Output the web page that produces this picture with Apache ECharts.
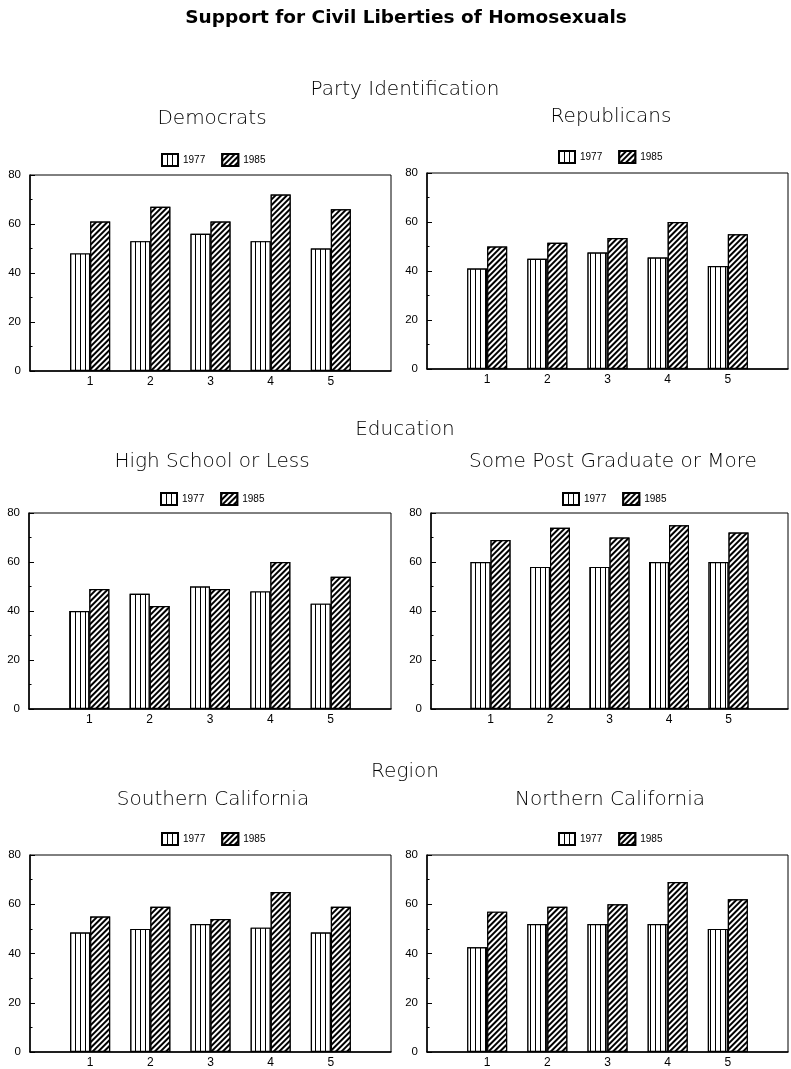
<!DOCTYPE html>
<html><head><meta charset="utf-8">
<script src="https://cdn.jsdelivr.net/npm/echarts@6/dist/echarts.min.js"></script>
<style>html,body{margin:0;padding:0;background:#fff}#c{width:791px;height:1069px}</style>
</head><body><div id="c"></div>
<script>
// ---- data ----
const categories = ['1', '2', '3', '4', '5'];
const years = ['1977', '1985'];
const yMin = 0, yMax = 80, yInterval = 20;
const chartTitle = 'Support for Civil Liberties of Homosexuals';
const sectionTitles = ['Party Identification', 'Education', 'Region'];
const panelTitles = ['Democrats', 'Republicans', 'High School or Less', 'Some Post Graduate or More', 'Southern California', 'Northern California'];

const democrats1977 = [48, 53, 56, 53, 50];
const democrats1985 = [61, 67, 61, 72, 66];
const republicans1977 = [41, 45, 47.5, 45.5, 42];
const republicans1985 = [50, 51.5, 53.5, 60, 55];
const highSchool1977 = [40, 47, 50, 48, 43];
const highSchool1985 = [49, 42, 49, 60, 54];
const postGrad1977 = [60, 58, 58, 60, 60];
const postGrad1985 = [69, 74, 70, 75, 72];
const southern1977 = [48.5, 50, 52, 50.5, 48.5];
const southern1985 = [55, 59, 54, 65, 59];
const northern1977 = [42.5, 52, 52, 52, 50];
const northern1985 = [57, 59, 60, 69, 62];

const panelData = [
  [democrats1977, democrats1985],
  [republicans1977, republicans1985],
  [highSchool1977, highSchool1985],
  [postGrad1977, postGrad1985],
  [southern1977, southern1985],
  [northern1977, northern1985]
];

// ---- layout ----
const panelLayout = [
  {left: 30,  top: 175, width: 361, height: 196, legendX: 161, legendY: 153, titleX: 212, titleY: 109},
  {left: 427, top: 173, width: 367, height: 196, legendX: 558, legendY: 150, titleX: 611, titleY: 107},
  {left: 29,  top: 513, width: 362, height: 196, legendX: 160, legendY: 492, titleX: 212, titleY: 452},
  {left: 431, top: 513, width: 366, height: 196, legendX: 562, legendY: 492, titleX: 613, titleY: 452},
  {left: 30,  top: 855, width: 361, height: 198, legendX: 161, legendY: 832, titleX: 213, titleY: 790},
  {left: 427, top: 855, width: 366, height: 198, legendX: 558, legendY: 832, titleX: 610, titleY: 790}
];
const sectionLayout = [{x: 405, y: 80}, {x: 405, y: 420}, {x: 405, y: 762}];

const FONT = 'DejaVu Sans';
const decals = [
  {symbol: 'rect', symbolSize: 1, color: '#000', backgroundColor: '#fff', dashArrayX: [1, 4], dashArrayY: [1, 0], rotation: 0},
  {symbol: 'rect', symbolSize: 1, color: '#000', backgroundColor: '#fff', dashArrayX: [1, 0], dashArrayY: [1.3, 1.7], rotation: -Math.PI / 4}
];

const axisCats = [''].concat(categories, ['']);

const option = {
  animation: false,
  backgroundColor: '#fff',
  aria: {enabled: true, decal: {show: true}},
  title: [],
  grid: [], xAxis: [], yAxis: [], legend: [], series: []
};

option.title.push({
  text: chartTitle, left: 406, top: 9, textAlign: 'center', padding: 0,
  textStyle: {fontFamily: FONT, fontSize: 18.5, fontWeight: 'bold', color: '#000'}
});
sectionTitles.forEach((t, i) => option.title.push({
  text: t, left: sectionLayout[i].x, top: sectionLayout[i].y, textAlign: 'center', padding: 0,
  textStyle: {fontFamily: FONT, fontSize: 20, fontWeight: 200, color: '#000'}
}));

panelLayout.forEach((p, i) => {
  option.title.push({
    text: panelTitles[i], left: p.titleX, top: p.titleY, textAlign: 'center', padding: 0,
    textStyle: {fontFamily: FONT, fontSize: 20, fontWeight: 200, color: '#000'}
  });
  option.grid.push({left: p.left, top: p.top, width: p.width, height: p.height,
    show: true, borderColor: '#000', borderWidth: 1, backgroundColor: 'transparent', containLabel: false});
  option.xAxis.push({
    type: 'category', gridIndex: i, data: axisCats, boundaryGap: false,
    axisLine: {lineStyle: {color: '#000', width: 1.5}},
    axisTick: {show: false},
    axisLabel: {color: '#000', fontFamily: 'Liberation Sans', fontSize: 12, margin: 5, interval: 0},
    splitLine: {show: false}
  });
  option.yAxis.push({
    type: 'value', gridIndex: i, min: yMin, max: yMax, interval: yInterval,
    axisLine: {show: true, lineStyle: {color: '#000', width: 1.5}},
    axisTick: {show: true, inside: true, length: 5, lineStyle: {color: '#000'}},
    minorTick: {show: true, splitNumber: 2, length: 2.5, lineStyle: {color: '#000'}},
    axisLabel: {color: '#000', fontFamily: 'Liberation Sans', fontSize: 11.5, margin: 9},
    splitLine: {show: false}
  });
  option.legend.push({
    data: years, left: p.legendX, top: p.legendY, padding: 0,
    icon: 'rect', itemWidth: 16, itemHeight: 12, itemGap: 16,
    selectedMode: false,
    textStyle: {fontFamily: 'Liberation Sans', fontSize: 10, color: '#000'}
  });
  years.forEach((y, k) => {
    option.series.push({
      type: 'bar', name: y, xAxisIndex: i, yAxisIndex: i,
      barWidth: 20, barGap: '0%',
      itemStyle: {color: '#fff', borderColor: '#000', borderWidth: 1.2, decal: decals[k]},
      data: categories.map((c, j) => [c, panelData[i][k][j]])
    });
  });
});

const chart = echarts.init(document.getElementById('c'), null, {renderer: 'canvas'});
chart.setOption(option);
</script></body></html>
